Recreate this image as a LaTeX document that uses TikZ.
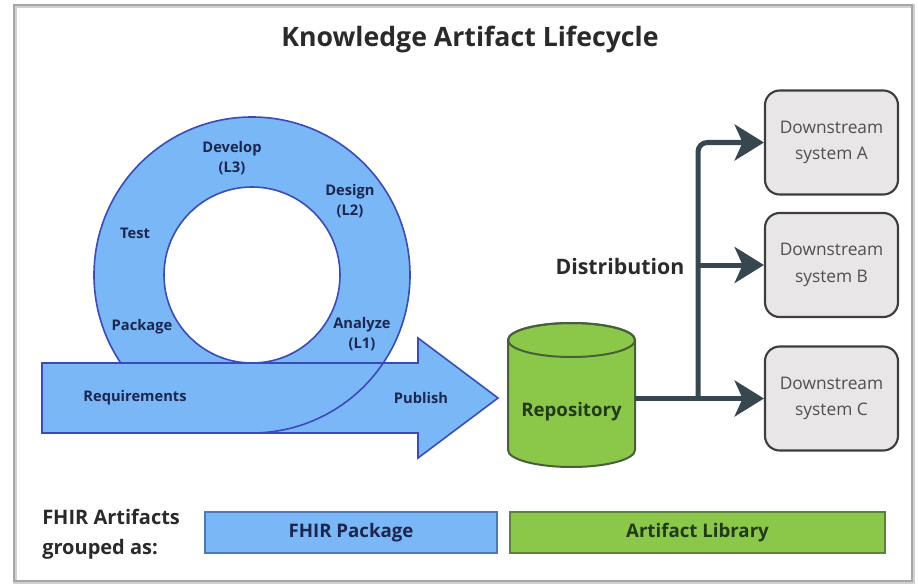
\documentclass[tikz,border=0pt]{standalone}
\usepackage{fontspec}
\setmainfont{Open Sans}
\usetikzlibrary{arrows.meta}
\definecolor{ringfill}{RGB}{122,183,246}
\definecolor{ringline}{RGB}{58,74,186}
\definecolor{navytext}{RGB}{28,38,78}
\definecolor{greenfill}{RGB}{139,200,74}
\definecolor{greenline}{RGB}{72,96,58}
\definecolor{greentext}{RGB}{34,58,24}
\definecolor{slate}{RGB}{55,71,79}
\definecolor{boxfill}{RGB}{232,230,230}
\definecolor{boxline}{RGB}{62,62,62}
\definecolor{dstext}{RGB}{80,80,80}
\definecolor{darktext}{RGB}{42,42,42}
\definecolor{legblueline}{RGB}{80,120,180}
\definecolor{leggreenline}{RGB}{90,130,60}
\begin{document}
\begin{tikzpicture}[x=0.75pt,y=-0.75pt,
  ringlbl/.style={font=\bfseries\fontsize{11}{15}\selectfont, text=navytext, align=center, inner sep=0},
  dsbox/.style={draw=boxline, fill=boxfill, line width=1.6pt, rounded corners=11pt,
    minimum width=99.75pt, minimum height=78pt, align=center, text=dstext,
    font=\fontsize{13}{20}\selectfont},
  conn/.style={draw=slate, line width=3.75pt, -{Stealth[length=22pt,width=27pt,inset=6pt]}},
  legbox/.style={line width=1pt, minimum height=30.75pt, font=\bfseries\fontsize{14}{17}\selectfont}
]
\useasboundingbox (0,0) rectangle (918,585);
% frame
\draw[black!18, line width=3pt] (15,6) rectangle (913,582);
\draw[black!35, line width=0.8pt] (14,5) rectangle (912,581);

% title
\node[font=\bfseries\fontsize{20}{24}\selectfont, text=darktext] (title) at (470,40) {Knowledge Artifact Lifecycle};

% ring
\fill[ringfill, even odd rule] (252,275) circle[radius=158] (252,275) circle[radius=88];
\draw[ringline, line width=1.2pt] (252,275) circle[radius=158];
\draw[ringline, line width=1.2pt] (252,275) circle[radius=88];
% arrow
\draw[ringline, fill=ringfill, line width=1.2pt, line join=miter]
  (42,363) -- (418,363) -- (418,338) -- (498,398) -- (418,458) -- (418,433) -- (42,433) -- cycle;
% front part of ring
\draw[ringline, line width=1.2pt] (383.2,363) arc[start angle=33.85, end angle=90, radius=158];

% ring labels
\node[ringlbl] (dev) at (232,158) {Develop\\(L3)};
\node[ringlbl] (des) at (350,201) {Design\\(L2)};
\node[ringlbl] (test) at (135,233) {Test};
\node[ringlbl] (pack) at (142,327) {Package};
\node[ringlbl] (ana) at (362,334) {Analyze\\(L1)};
\node[ringlbl] (req) at (135,398) {Requirements};
\node[ringlbl] (pub) at (421,398) {Publish};

% repository cylinder
\draw[greenline, fill=greenfill, line width=1.5pt]
  (508,340) -- (508,450) arc[start angle=180, end angle=0, x radius=63.5, y radius=17]
  -- (635,340) arc[start angle=0, end angle=-180, x radius=63.5, y radius=17] -- cycle;
\draw[greenline, line width=1.5pt] (571.5,340) ellipse[x radius=63.5, y radius=17];
\node[inner sep=0, minimum width=95.25pt, minimum height=108pt] (repo) at (571.5,395) {};
\node[font=\bfseries\fontsize{14}{17}\selectfont, text=greentext] (repolbl) at (571.5,412) {Repository};

% downstream systems
\node[dsbox] (A) at (831.5,142.5) {Downstream\\system A};
\node[dsbox] (B) at (831.5,265) {Downstream\\system B};
\node[dsbox] (C) at (831.5,398.5) {Downstream\\system C};

% connectors
\coordinate (split) at (698,398.5);
\draw[conn] (repo.east |- C.west) -- (C.west);
\draw[conn, rounded corners=7pt] (split) |- (A.west);
\draw[conn] (split |- B.west) -- (B.west);

\node[font=\bfseries\fontsize{16}{19}\selectfont, text=darktext] (dist) at (620,266) {Distribution};

% legend
\node[font=\bfseries\fontsize{15}{22.5}\selectfont, text=darktext, align=left, anchor=west, inner sep=0] (leg) at (42,534) {FHIR Artifacts\\grouped as:};
\node[legbox, draw=legblueline, fill=ringfill, minimum width=219pt, text=navytext] (pkg) at (351,532.5) {FHIR Package};
\node[legbox, draw=leggreenline, fill=greenfill, minimum width=281.25pt, text=greentext] (lib) at (697.5,532.5) {Artifact Library};
\end{tikzpicture}
\end{document}
